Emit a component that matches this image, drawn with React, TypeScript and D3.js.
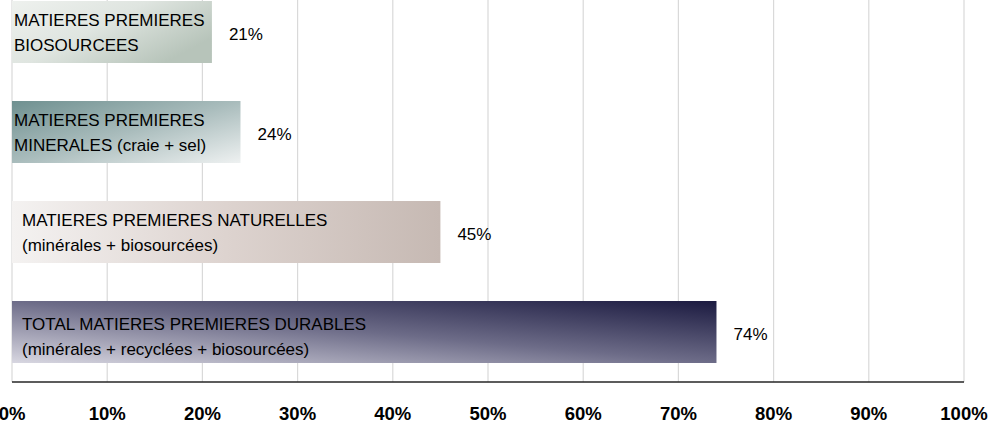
import React, { useEffect, useRef } from 'react';
import * as d3 from 'd3';

// categories (top to bottom) and their values in %
const categories = [
  'biosourcees',
  'minerales',
  'naturelles',
  'total',
];
const labelLines = [
  ['MATIERES PREMIERES', 'BIOSOURCEES'],
  ['MATIERES PREMIERES', 'MINERALES (craie + sel)'],
  ['MATIERES PREMIERES NATURELLES', '(minérales + biosourcées)'],
  ['TOTAL MATIERES PREMIERES DURABLES', '(minérales + recyclées + biosourcées)'],
];
const values = [21, 24, 45, 74];
const ticks = [0, 10, 20, 30, 40, 50, 60, 70, 80, 90, 100];

const W = 989;
const H = 425;
const FONT = "'Liberation Sans', Arial, sans-serif";

export default function App() {
  const svgRef = useRef<SVGSVGElement>(null);

  useEffect(() => {
    document.body.style.margin = '0';
    if (!svgRef.current) return;
    const svg = d3.select(svgRef.current);
    svg.selectAll('*').remove();

    const x = d3.scaleLinear().domain([0, 100]).range([12, 964]);
    const y = d3.scaleBand<string>()
      .domain(categories)
      .range([-18, 382])
      .paddingInner(0.38)
      .paddingOuter(0.19);

    const defs = svg.append('defs');
    const grads = [
      { id: 'g0', x1: '0%', y1: '0%', x2: '100%', y2: '60%', stops: ['#eef1ee', '#dfe5e0', '#b7c4ba'] },
      { id: 'g1', x1: '0%', y1: '0%', x2: '100%', y2: '100%', stops: ['#6f9090', '#a9bcbc', '#eef1f1'] },
      { id: 'g2', x1: '0%', y1: '0%', x2: '100%', y2: '0%', stops: ['#f4f2f1', '#ddd3cf', '#c6b9b3'] },
      { id: 'g3', x1: '0%', y1: '100%', x2: '100%', y2: '0%', stops: ['#d8d7e1', '#6d6c88', '#1b1a40'] },
    ];
    grads.forEach(g => {
      const lg = defs.append('linearGradient')
        .attr('id', g.id)
        .attr('x1', g.x1).attr('y1', g.y1).attr('x2', g.x2).attr('y2', g.y2);
      g.stops.forEach((c, i) => {
        lg.append('stop')
          .attr('offset', `${(i / (g.stops.length - 1)) * 100}%`)
          .attr('stop-color', c);
      });
    });

    // grid lines
    svg.append('g')
      .selectAll('line')
      .data(ticks)
      .enter().append('line')
      .attr('x1', d => x(d)).attr('x2', d => x(d))
      .attr('y1', 0).attr('y2', 382)
      .attr('stroke', '#d9d9d9')
      .attr('stroke-width', 1.2);

    // bars
    svg.append('g')
      .selectAll('rect')
      .data(values)
      .enter().append('rect')
      .attr('x', x(0))
      .attr('y', (d, i) => y(categories[i]) || 0)
      .attr('width', d => x(d) - x(0))
      .attr('height', y.bandwidth())
      .attr('fill', (d, i) => `url(#g${i})`);

    // labels inside bars
    const lbl = svg.append('g')
      .style('font-family', FONT)
      .style('font-size', '17px')
      .attr('fill', '#000');
    labelLines.forEach((lines, i) => {
      const cy = (y(categories[i]) || 0) + y.bandwidth() / 2;
      const lx = i < 2 ? 14 : 22;
      lines.forEach((t, j) => {
        lbl.append('text')
          .attr('x', lx)
          .attr('y', cy - 6 + j * 25 + (i === 3 ? 4 : 0))
          .text(t);
      });
    });

    // value labels
    svg.append('g')
      .style('font-family', FONT)
      .style('font-size', '17px')
      .selectAll('text')
      .data(values)
      .enter().append('text')
      .attr('x', d => x(d) + 17)
      .attr('y', (d, i) => (y(categories[i]) || 0) + y.bandwidth() / 2 + 8)
      .text(d => `${d}%`);

    // axis line
    svg.append('line')
      .attr('x1', x(0)).attr('x2', x(100))
      .attr('y1', 382).attr('y2', 382)
      .attr('stroke', '#262626')
      .attr('stroke-width', 1.5);

    // tick labels
    svg.append('g')
      .style('font-family', FONT)
      .style('font-size', '18.5px')
      .style('font-weight', 'bold')
      .selectAll('text')
      .data(ticks)
      .enter().append('text')
      .attr('x', d => x(d))
      .attr('y', 420)
      .attr('text-anchor', 'middle')
      .text(d => `${d}%`);
  }, []);

  return (
    <svg
      ref={svgRef}
      width={W}
      height={H}
      viewBox={`0 0 ${W} ${H}`}
      style={{ display: 'block', background: '#fff' }}
    />
  );
}
